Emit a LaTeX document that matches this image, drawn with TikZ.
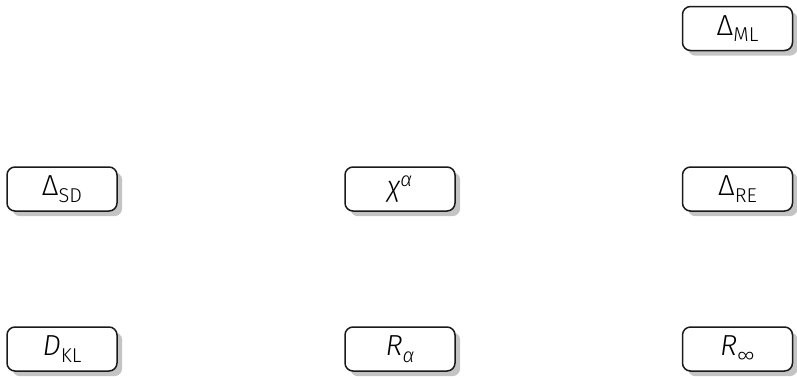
\documentclass[tikz,border=0pt]{standalone}
\usepackage{fontspec}
\setmainfont{Fira Sans Light}[ItalicFont={Fira Sans Light Italic}]
\usepackage{tikz}
\usetikzlibrary{positioning,shadows}
\definecolor{sombra}{HTML}{C4C4C4}
\definecolor{borda}{HTML}{1A1A1A}
\newcommand{\lo}[1]{\raisebox{-3.2pt}{\fontsize{10}{12}\selectfont #1}}
\newcommand{\hi}[1]{\raisebox{5pt}{\fontsize{10}{12}\selectfont #1}}

\begin{document}
\begin{tikzpicture}[x=0.5pt,y=-0.5pt, rel/.style={draw=borda, line width=0.75pt, rounded corners=4pt, fill=white, minimum width=55pt, minimum height=22pt, inner sep=0pt, font=\fontsize{14.5}{17}\selectfont,
    drop shadow={shadow xshift=2.6pt, shadow yshift=-2.6pt, fill=sombra, opacity=1}}]
  \useasboundingbox (0,0) rectangle (797,376);
  % top row
  \node[rel] (ml) at (737.5,28.5) {Δ\lo{ML}};
  % middle row
  \node[rel] (sd) at (62,189) {Δ\lo{SD}};
  \node[rel] (chi) at (400,189) {\textit{χ}\hi{\itshape α}};
  \node[rel] (re) at (737.5,189) {Δ\lo{RE}};
  % bottom row
  \node[rel] (kl) at (62,349) {\textit{D}\lo{KL}};
  \node[rel] (ra) at (400,349) {\textit{R}\lo{\itshape α}};
  \node[rel] (rinf) at (737.5,349) {\textit{R}\lo{∞}};
\end{tikzpicture}
\end{document}
